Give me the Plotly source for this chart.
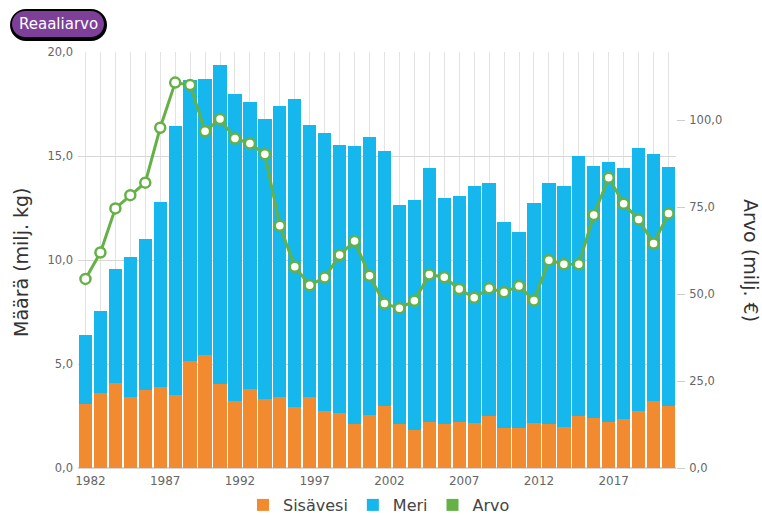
import plotly.graph_objs as go

# vuodet ja sarjat
years = [1982, 1983, 1984, 1985, 1986, 1987, 1988, 1989, 1990, 1991,
         1992, 1993, 1994, 1995, 1996, 1997, 1998, 1999, 2000, 2001,
         2002, 2003, 2004, 2005, 2006, 2007, 2008, 2009, 2010, 2011,
         2012, 2013, 2014, 2015, 2016, 2017, 2018, 2019, 2020, 2021]

sisavesi = [3.09, 3.60, 4.10, 3.42, 3.76, 3.89, 3.49, 5.14, 5.42, 4.06,
            3.23, 3.81, 3.34, 3.41, 2.93, 3.41, 2.75, 2.66, 2.10, 2.53,
            2.96, 2.10, 1.84, 2.21, 2.13, 2.21, 2.14, 2.48, 1.90, 1.90,
            2.18, 2.13, 1.95, 2.50, 2.42, 2.21, 2.38, 2.75, 3.22, 2.96]

meri = [3.31, 3.97, 5.45, 6.74, 7.23, 8.88, 12.97, 13.53, 13.30, 15.32,
        14.77, 13.81, 13.43, 14.01, 14.81, 13.10, 13.36, 12.89, 13.39, 13.36,
        12.26, 10.56, 11.06, 12.22, 10.85, 10.89, 11.40, 11.23, 9.94, 9.44,
        10.56, 11.58, 11.60, 12.48, 12.08, 12.48, 12.02, 12.64, 11.90, 11.52]

arvo = [54.4, 62.0, 74.7, 78.5, 82.1, 97.9, 110.9, 110.2, 96.9, 100.4,
        94.8, 93.4, 90.3, 69.7, 57.9, 52.6, 54.8, 61.3, 65.3, 55.3,
        47.3, 46.0, 48.1, 55.7, 54.9, 51.5, 49.0, 51.7, 50.6, 52.4,
        48.2, 59.8, 58.6, 58.6, 72.8, 83.5, 76.0, 71.5, 64.6, 73.2]

ORANGE = '#f28b30'
BLUE = '#16b7ec'
GREEN = '#66b146'
FONT = 'DejaVu Sans'

# plot area in pixels (for the button and titles)
L, T, W, H = 78, 52, 598, 416


def px(x, y):
    return (x - L) / W, (T + H - y) / H


def pill(x0, y0, x1, y1):
    r = (y1 - y0) / 2
    k = 0.5523 * r
    pts = [
        ('M', [(x0 + r, y0)]),
        ('L', [(x1 - r, y0)]),
        ('C', [(x1 - r + k, y0), (x1, y0 + r - k), (x1, y0 + r)]),
        ('C', [(x1, y0 + r + k), (x1 - r + k, y1), (x1 - r, y1)]),
        ('L', [(x0 + r, y1)]),
        ('C', [(x0 + r - k, y1), (x0, y1 - r + k), (x0, y1 - r)]),
        ('C', [(x0, y1 - r - k), (x0 + r - k, y0), (x0 + r, y0)]),
    ]
    out = ''
    for cmd, pp in pts:
        out += cmd + ' '.join('%.5f,%.5f' % px(a, b) for a, b in pp) + ' '
    return out + 'Z'


trace1 = go.Bar(x=years, y=sisavesi, name='Sisävesi', marker=dict(color=ORANGE, line=dict(width=0)))
trace2 = go.Bar(x=years, y=meri, name='Meri', marker=dict(color=BLUE, line=dict(width=0)))
trace3 = go.Scatter(x=years, y=arvo, yaxis='y2', mode='lines+markers', name='Arvo', showlegend=False,
                    line=dict(color=GREEN, width=3),
                    marker=dict(size=10, color='white', line=dict(color=GREEN, width=2.5)))
# legend item for Arvo drawn as a box like the others
trace4 = go.Bar(x=[None], y=[None], name='Arvo', marker=dict(color=GREEN, line=dict(width=0)))

tickfont = dict(family=FONT, size=11.5, color='#666666')

layout = go.Layout(
    width=762, height=515,
    margin=dict(l=L, r=762 - L - W, t=T, b=515 - T - H, autoexpand=False),
    paper_bgcolor='white', plot_bgcolor='white',
    separators=', ',
    barmode='stack', bargap=0.11,
    font=dict(family=FONT, color='#333333'),
    xaxis=dict(range=[1981.5, 2021.5], tick0=1982, dtick=5, tickformat='d',
               showgrid=True, gridcolor='#e3e3e3', gridwidth=1,
               minor=dict(dtick=1, showgrid=True, gridcolor='#e3e3e3', gridwidth=1),
               ticks='', ticklabelshift=5, ticklabelstandoff=4,
               tickfont=dict(family=FONT, size=12, color='#666666'),
               zeroline=False, showline=False, automargin=False),
    yaxis=dict(range=[0, 20], dtick=5, tickformat='.1f', showgrid=True, gridcolor='#d6d6d6',
               zeroline=True, zerolinecolor='#d6d6d6', showline=False, ticks='',
               ticklabelstandoff=4, tickfont=tickfont, automargin=False),
    yaxis2=dict(range=[0, 119.7], tickvals=[0, 25, 50, 75, 100], tickformat='.1f', overlaying='y',
                side='right', showgrid=False, zeroline=False, showline=False,
                ticks='outside', ticklen=8, tickcolor='#cccccc', ticklabelstandoff=2,
                tickfont=tickfont, automargin=False),
    legend=dict(orientation='h', x=px(379, 0)[0], xanchor='center',
                y=px(0, 505)[1], yanchor='middle', bgcolor='rgba(0,0,0,0)',
                font=dict(family=FONT, size=16, color='#444444'), itemwidth=30,
                traceorder='normal'),
    showlegend=True,
)

figure = go.Figure(data=[trace1, trace2, trace3, trace4], layout=layout)

# akselien otsikot
figure.add_annotation(text='Määrä (milj. kg)', xref='paper', yref='paper', x=px(21, 0)[0], y=px(0, 262)[1],
                      xanchor='center', yanchor='middle',
                      textangle=-90, showarrow=False, font=dict(family=FONT, size=19, color='#333333'))
figure.add_annotation(text='Arvo (milj. €)', xref='paper', yref='paper', x=px(751, 0)[0], y=px(0, 260)[1],
                      xanchor='center', yanchor='middle',
                      textangle=90, showarrow=False, font=dict(family=FONT, size=19, color='#333333'))

# Reaaliarvo-nappi
figure.add_shape(type='path', xref='paper', yref='paper', path=pill(10, 9, 107, 41),
                 fillcolor='black', line=dict(width=0))
figure.add_shape(type='path', xref='paper', yref='paper', path=pill(12, 11, 104, 37),
                 fillcolor='#7d3f98', line=dict(width=0))
figure.add_annotation(text='Reaaliarvo', xref='paper', yref='paper', x=px(58, 0)[0], y=px(0, 24)[1],
                      xanchor='center', yanchor='middle',
                      showarrow=False, font=dict(family=FONT, size=15, color='white'))

figure.write_html("out.html", config={'displayModeBar': False},
                  post_script="document.body.style.margin='0';")
